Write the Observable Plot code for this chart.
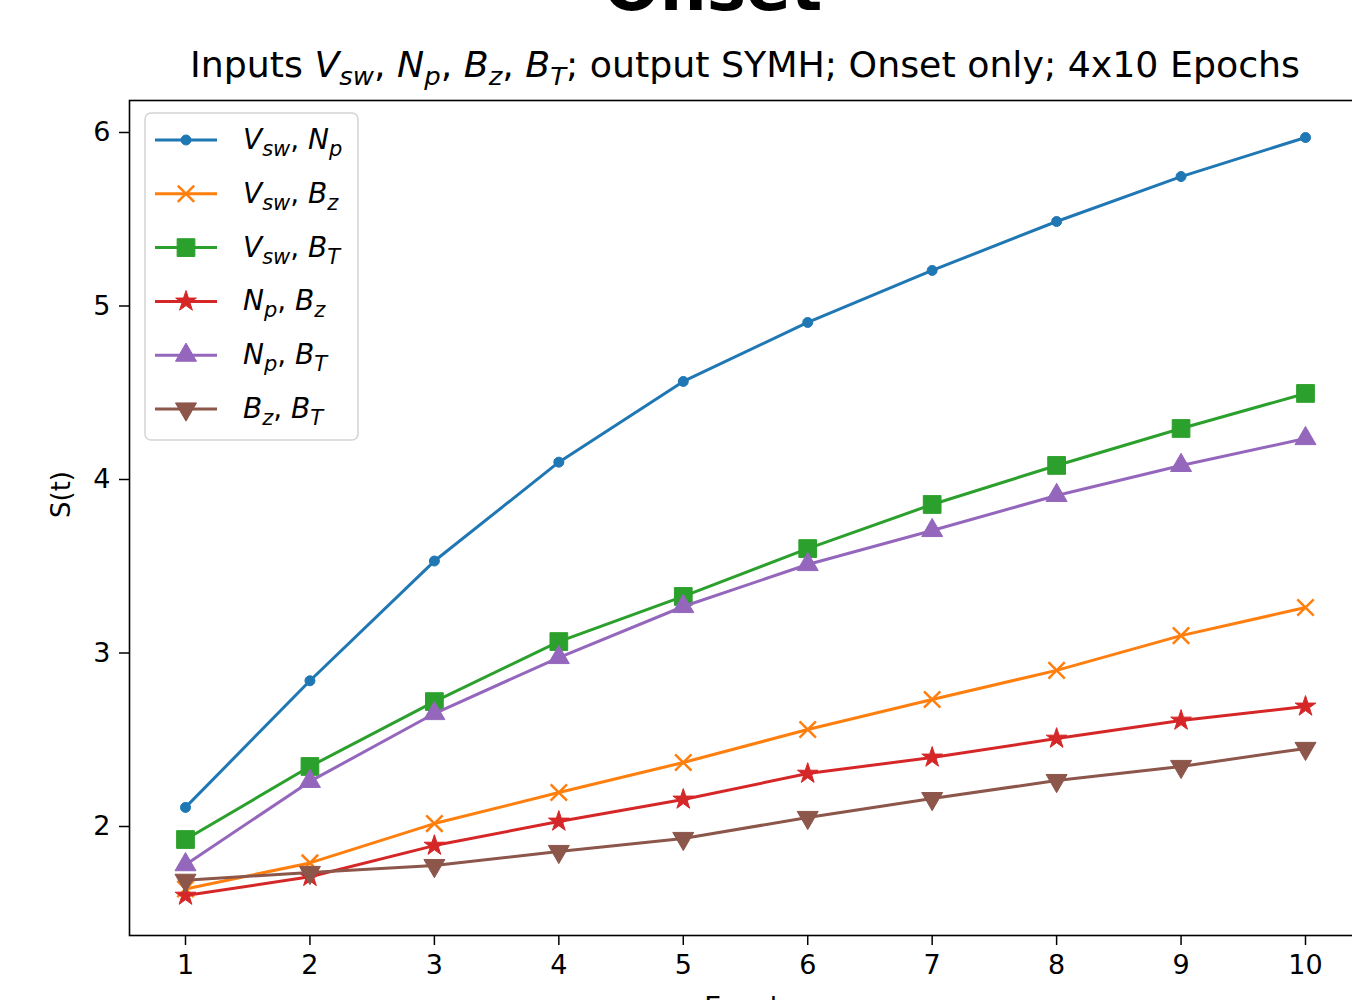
<!DOCTYPE html>
<html>
<head>
<meta charset="utf-8">
<script src="https://cdn.jsdelivr.net/npm/d3@7"></script>
<script src="https://cdn.jsdelivr.net/npm/@observablehq/plot@0.6"></script>
<style>
  html, body { margin: 0; padding: 0; background: white; overflow: hidden; }
  #wrap { position: relative; width: 1352px; height: 1000px; overflow: hidden; }
  #chart { position: absolute; left: 0; top: 0; width: 1361px; }
  #chart svg { max-width: none !important; }
  #overlay { position: absolute; left: 0; top: 0; pointer-events: none; }
</style>
</head>
<body>
<div id="wrap">
  <div id="chart"></div>
  <svg id="overlay" width="1352" height="1000"></svg>
</div>
<script>
// ---- data ----
const epochs = [1, 2, 3, 4, 5, 6, 7, 8, 9, 10];
const seriesNames = ["Vsw, Np", "Vsw, Bz", "Vsw, BT", "Np, Bz", "Np, BT", "Bz, BT"];
const seriesLabels = [[["V","sw"],["N","p"]], [["V","sw"],["B","z"]], [["V","sw"],["B","T"]],
                      [["N","p"],["B","z"]], [["N","p"],["B","T"]], [["B","z"],["B","T"]]];
const vswNp = [2.11, 2.84, 3.53, 4.10, 4.565, 4.905, 5.205, 5.487, 5.746, 5.971];
const vswBz = [1.64, 1.79, 2.017, 2.196, 2.369, 2.559, 2.732, 2.90, 3.10, 3.262];
const vswBT = [1.925, 2.346, 2.72, 3.066, 3.326, 3.602, 3.856, 4.081, 4.294, 4.496];
const npBz  = [1.602, 1.71, 1.89, 2.029, 2.156, 2.305, 2.398, 2.507, 2.611, 2.692];
const npBT  = [1.78, 2.26, 2.651, 2.974, 3.268, 3.51, 3.706, 3.908, 4.081, 4.236];
const bzBT  = [1.69, 1.735, 1.775, 1.856, 1.931, 2.052, 2.161, 2.265, 2.346, 2.45];
const seriesValues = [vswNp, vswBz, vswBT, npBz, npBT, bzBT];
const yTicks = [2, 3, 4, 5, 6];

// ---- styles ----
const colors = ["#1f77b4", "#ff7f0e", "#2ca02c", "#d62728", "#9467bd", "#8c564b"];
const symbols = ["circle", "times", "square", "star", "triangle", "triangle"];
const d3symbols = [d3.symbolCircle, d3.symbolTimes, d3.symbolSquare, d3.symbolStar, d3.symbolTriangle, d3.symbolTriangle];
const radii = [5, 7.5, 10, 6.5, 7.8, 7.8];
const rotations = [0, 0, 0, 0, 0, 180];

const rows = [];
seriesNames.forEach((name, i) => {
  epochs.forEach((e, j) => rows.push({series: name, idx: i, epoch: e, value: seriesValues[i][j]}));
});

const marks = [];
seriesNames.forEach((name, i) => {
  const data = rows.filter(d => d.idx === i);
  marks.push(Plot.line(data, {x: "epoch", y: "value", stroke: colors[i], strokeWidth: 3}));
  const isTimes = symbols[i] === "times";
  marks.push(Plot.dot(data, {
    x: "epoch", y: "value", symbol: symbols[i], r: radii[i], rotate: rotations[i],
    fill: isTimes ? "none" : colors[i], stroke: colors[i], strokeWidth: isTimes ? 2.5 : 1
  }));
});

const chart = Plot.plot({
  width: 1361,
  height: 1040,
  marginLeft: 129,
  marginTop: 100,
  marginRight: 0,
  marginBottom: 105,
  style: {fontFamily: "DejaVu Sans", fontSize: "27px", color: "black", background: "transparent", overflow: "visible", maxWidth: "none"},
  x: {domain: [0.55, 10.45]},
  y: {domain: [1.3718, 6.1844]},
  marks: [
    ...marks,
    Plot.axisX({ticks: epochs, tickFormat: "d", tickSize: 10, tickPadding: 9, strokeWidth: 1.5, label: null, fontSize: 27}),
    Plot.axisY({ticks: yTicks, tickFormat: "d", tickSize: 10, tickPadding: 9, strokeWidth: 1.5, label: null, fontSize: 27}),
    Plot.text(["S(t)"], {frameAnchor: "left", dx: -68, rotate: -90, fontSize: 26, fill: "black"}),
    Plot.text(["Epoch"], {frameAnchor: "bottom", dy: 80, fontSize: 27, fill: "black"}),
    Plot.frame({stroke: "black", strokeWidth: 1.6})
  ]
});
chart.style.maxWidth = "none";
document.getElementById("chart").appendChild(chart);

// ---- overlay: title, subtitle, legend ----
const ov = d3.select("#overlay");
const ns = "DejaVu Sans";

// appends "A_b, C_d, ..." and returns the dy still owed to return to baseline
function addMath(textSel, parts, subSize, subDy) {
  let pending = 0;
  parts.forEach((p, k) => {
    if (k > 0) { textSel.append("tspan").attr("font-style", "normal").attr("dy", pending).text(", "); pending = 0; }
    textSel.append("tspan").attr("font-style", "italic").attr("dy", pending || null).text(p[0]);
    textSel.append("tspan").attr("font-style", "italic").attr("font-size", subSize).attr("dy", subDy).text(p[1]);
    pending = -subDy;
  });
  return pending;
}

ov.append("text").attr("x", 713).attr("y", 10).attr("text-anchor", "middle")
  .attr("font-family", ns).attr("font-weight", "bold").attr("font-size", 66).text("Onset");

const sub = ov.append("text").attr("x", 190).attr("y", 77)
  .attr("font-family", ns).attr("font-size", 35)
  .attr("textLength", 1110).attr("lengthAdjust", "spacingAndGlyphs");
sub.append("tspan").text("Inputs ");
const back = addMath(sub, [["V","sw"],["N","p"],["B","z"],["B","T"]], 25, 8);
sub.append("tspan").attr("dy", back).text("; output SYMH; Onset only; 4x10 Epochs");

// legend
const lg = ov.append("g");
lg.append("rect").attr("x", 145).attr("y", 113).attr("width", 213).attr("height", 327)
  .attr("rx", 6).attr("fill", "white").attr("fill-opacity", 0.8)
  .attr("stroke", "#d4d4d4").attr("stroke-width", 1.5);
seriesNames.forEach((name, i) => {
  const cy = 140 + 53.8 * i;
  lg.append("line").attr("x1", 155).attr("x2", 217).attr("y1", cy).attr("y2", cy)
    .attr("stroke", colors[i]).attr("stroke-width", 3);
  const isTimes = symbols[i] === "times";
  lg.append("path")
    .attr("d", d3.symbol(d3symbols[i], Math.PI * radii[i] * radii[i])())
    .attr("transform", `translate(186,${cy}) rotate(${rotations[i]})`)
    .attr("fill", isTimes ? "none" : colors[i]).attr("stroke", colors[i])
    .attr("stroke-width", isTimes ? 2.5 : 1);
  const t = lg.append("text").attr("x", 243).attr("y", cy + 9)
    .attr("font-family", ns).attr("font-size", 28);
  addMath(t, seriesLabels[i], 21, 7);
});
</script>
</body>
</html>
